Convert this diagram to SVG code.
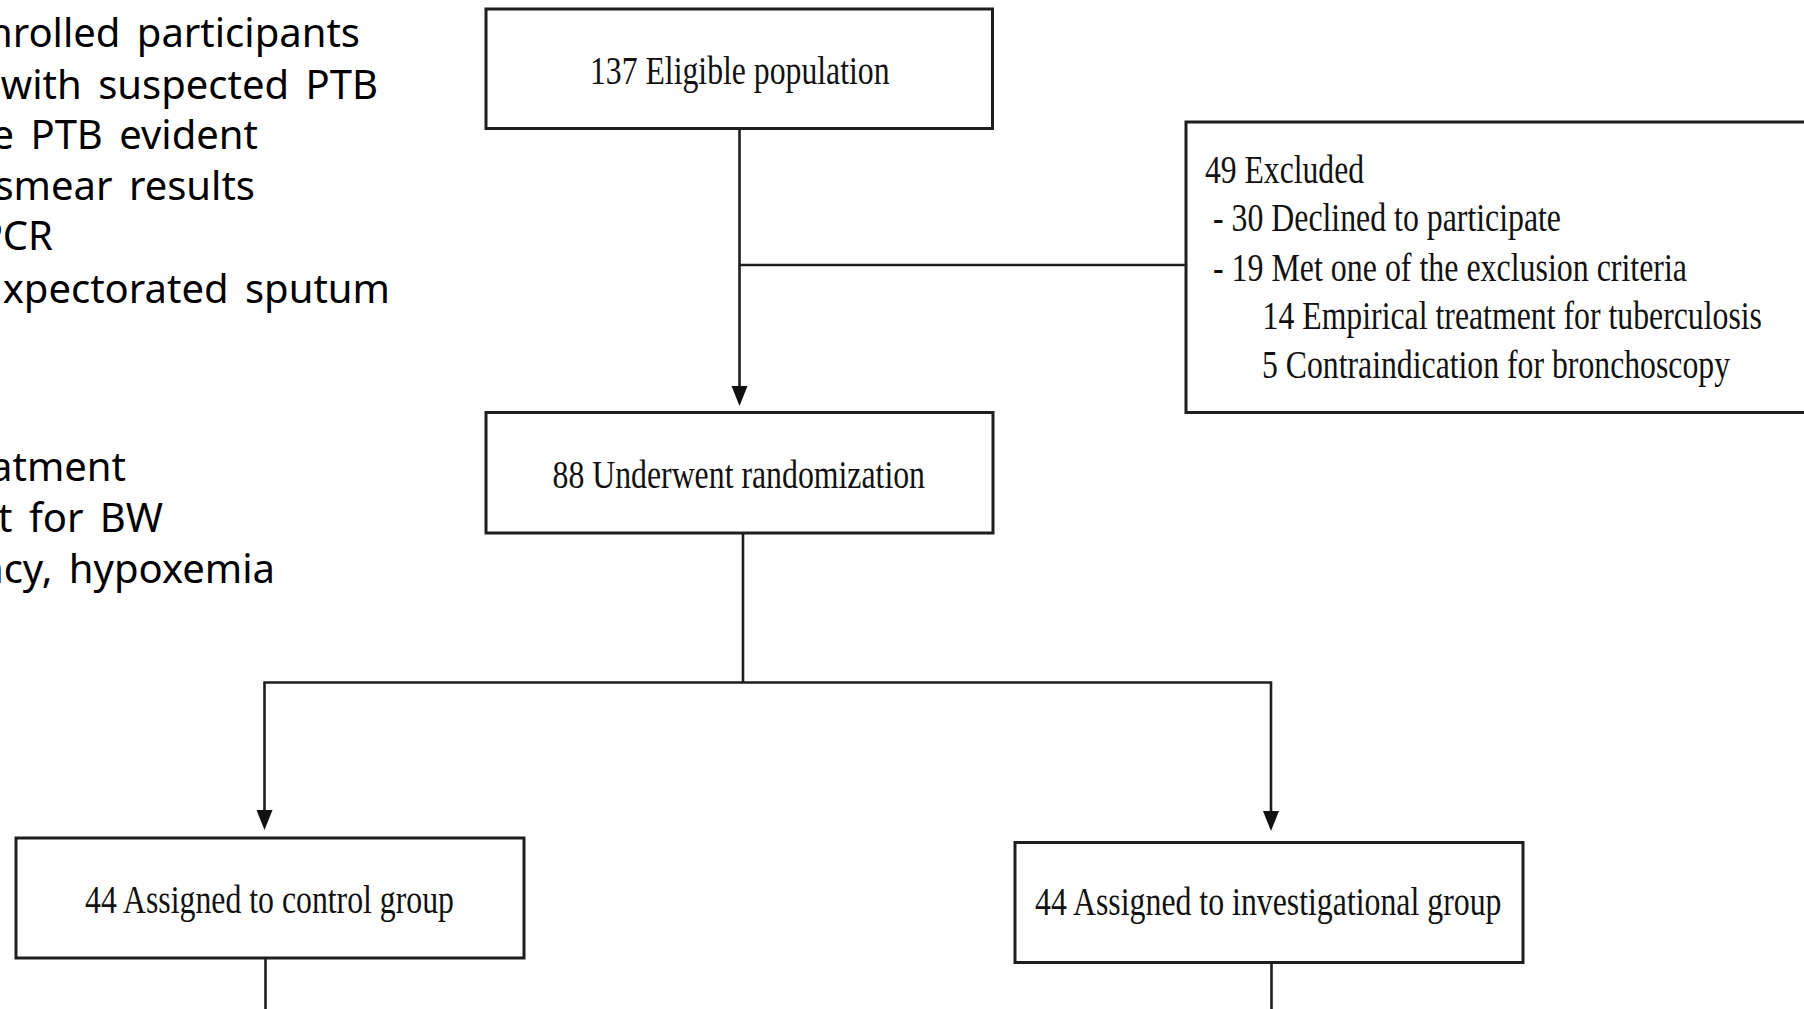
<svg xmlns="http://www.w3.org/2000/svg" width="1804" height="1009" viewBox="0 0 1804 1009">
  <style>
    .box { fill: #ffffff; stroke: #1e1e1e; stroke-width: 3; }
    .link { fill: none; stroke: #1e1e1e; stroke-width: 2.6; }
    .head { fill: #111111; }
    .serif { font-family: "Liberation Serif", "Times New Roman", serif; font-size: 39px; fill: #111111; }
    .note { font-family: "Noto Sans", "Open Sans", sans-serif; font-size: 40px; word-spacing: 6px; fill: #000000; text-anchor: end; }
  </style>
  <rect width="1804" height="1009" fill="#ffffff"/>

  <!-- side notes, partly running off the left edge -->
  <g id="side-notes">
    <text class="note" x="360" y="47">nrolled participants</text>
    <text class="note" x="378" y="99">with suspected PTB</text>
    <text class="note" x="258" y="149">e PTB evident</text>
    <text class="note" x="255" y="200">smear results</text>
    <text class="note" x="53" y="250">PCR</text>
    <text class="note" x="390" y="303">xpectorated sputum</text>
    <text class="note" x="126" y="481">atment</text>
    <text class="note" x="163" y="532">t for BW</text>
    <text class="note" x="275" y="583">ncy, hypoxemia</text>
  </g>

  <!-- connectors -->
  <g id="connectors">
    <line class="link" x1="739.5" y1="129" x2="739.5" y2="388"/>
    <path class="head" d="M731.5,386 L747.5,386 L739.5,406 Z"/>
    <line class="link" x1="739.5" y1="265" x2="1186" y2="265"/>
    <polyline class="link" points="743,533 743,682.5"/>
    <polyline class="link" points="264.5,812 264.5,682.5 1271,682.5 1271,812"/>
    <path class="head" d="M256.5,810 L272.5,810 L264.5,830 Z"/>
    <path class="head" d="M1263,811 L1279,811 L1271,831 Z"/>
    <line class="link" x1="265.5" y1="958" x2="265.5" y2="1012"/>
    <line class="link" x1="1271.5" y1="963" x2="1271.5" y2="1012"/>
  </g>

  <g id="eligible">
    <rect class="box" x="486" y="9" width="506.5" height="119.5"/>
    <text class="serif" x="590" y="84" textLength="299.5" lengthAdjust="spacingAndGlyphs">137 Eligible population</text>
  </g>

  <g id="excluded">
    <rect class="box" x="1186" y="122" width="640" height="290.5"/>
    <text class="serif" x="1205" y="183" textLength="159" lengthAdjust="spacingAndGlyphs">49 Excluded</text>
    <text class="serif" x="1213" y="231" textLength="348" lengthAdjust="spacingAndGlyphs">- 30 Declined to participate</text>
    <text class="serif" x="1213" y="281" textLength="474" lengthAdjust="spacingAndGlyphs">- 19 Met one of the exclusion criteria</text>
    <text class="serif" x="1262.5" y="329" textLength="499.5" lengthAdjust="spacingAndGlyphs">14 Empirical treatment for tuberculosis</text>
    <text class="serif" x="1262" y="378" textLength="468" lengthAdjust="spacingAndGlyphs">5 Contraindication for bronchoscopy</text>
  </g>

  <g id="randomization">
    <rect class="box" x="486" y="412.5" width="507" height="120.5"/>
    <text class="serif" x="552.5" y="488" textLength="372.5" lengthAdjust="spacingAndGlyphs">88 Underwent randomization</text>
  </g>

  <g id="control-group">
    <rect class="box" x="16" y="838" width="508" height="120"/>
    <text class="serif" x="85" y="913" textLength="369" lengthAdjust="spacingAndGlyphs">44 Assigned to control group</text>
  </g>

  <g id="investigational-group">
    <rect class="box" x="1015" y="842.5" width="508" height="120"/>
    <text class="serif" x="1035" y="915" textLength="466.5" lengthAdjust="spacingAndGlyphs">44 Assigned to investigational group</text>
  </g>
</svg>
